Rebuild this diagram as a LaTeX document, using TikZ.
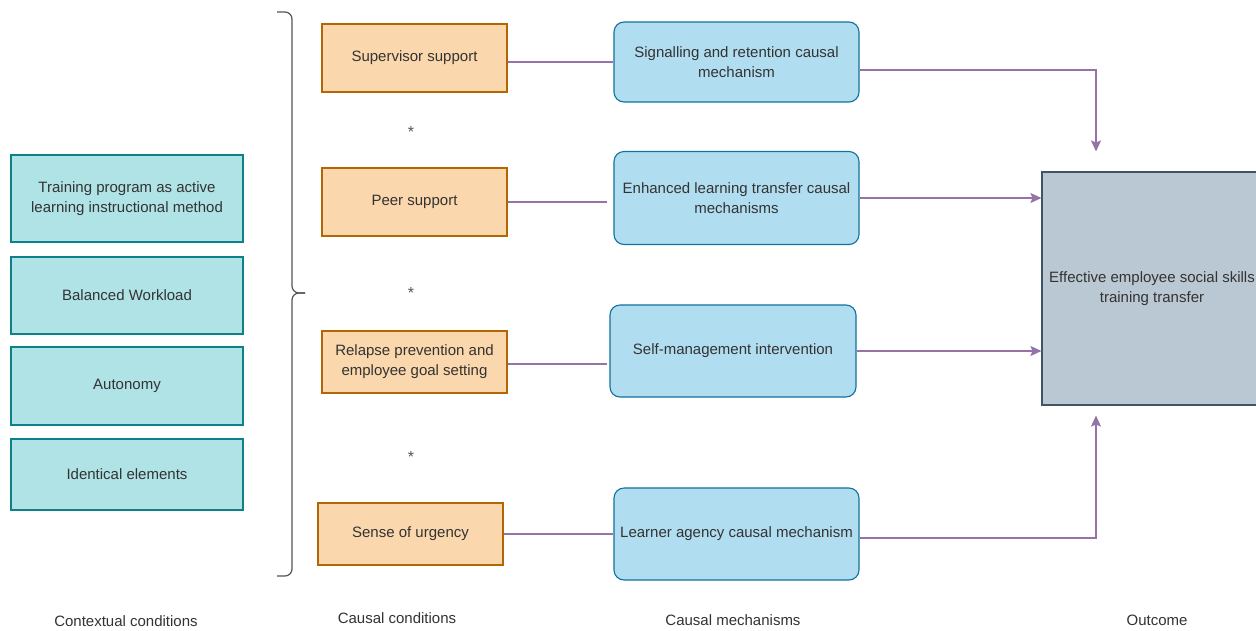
\documentclass[tikz,border=0pt]{standalone}
\usepackage{fontspec}
\setmainfont{Liberation Sans}
\usetikzlibrary{arrows.meta}

\definecolor{tealfill}{HTML}{B0E3E6}
\definecolor{tealline}{HTML}{0E8088}
\definecolor{orangefill}{HTML}{FAD7AC}
\definecolor{orangeline}{HTML}{B46504}
\definecolor{bluefill}{HTML}{B1DDF0}
\definecolor{blueline}{HTML}{10739E}
\definecolor{slatefill}{HTML}{BAC8D3}
\definecolor{slateline}{HTML}{3F5566}
\definecolor{linkc}{HTML}{9673A6}
\definecolor{ink}{HTML}{333333}
\definecolor{bracec}{HTML}{555555}

\tikzset{
  box/.style={draw, line width=1.1pt, inner sep=2pt, align=center},
  ctx/.style={box, fill=tealfill, draw=tealline},
  cond/.style={box, fill=orangefill, draw=orangeline},
  mech/.style={box, fill=bluefill, draw=blueline, rounded corners=10pt},
  outc/.style={box, fill=slatefill, draw=slateline},
  link/.style={draw=linkc, line width=1.3pt},
  arr/.style={link, -{Stealth[length=11pt,width=10pt,inset=2pt]}},
  starmark/.style={text=bracec, font=\fontsize{16}{18}\selectfont, inner sep=0pt},
  caption/.style={inner sep=0pt}
}

\begin{document}
\begin{tikzpicture}[x=1pt, y=-1pt, font=\fontsize{15}{20}\selectfont, text=ink]
\useasboundingbox[fill=white] (0,0) rectangle (1256,630);

% contextual conditions
\node[ctx, minimum width=232pt, minimum height=87pt] (c1) at (127,198.5) {Training program as active\\learning instructional method};
\node[ctx, minimum width=232pt, minimum height=77pt] (c2) at (127,295.5) {Balanced Workload};
\node[ctx, minimum width=232pt, minimum height=78pt] (c3) at (127,386) {Autonomy};
\node[ctx, minimum width=232pt, minimum height=71pt] (c4) at (127,474.5) {Identical elements};

% brace grouping the causal conditions
\draw[bracec, line width=1.2pt, rounded corners=7pt] (277,12) -- (292,12) -- (292,293) -- (305,293);
\draw[bracec, line width=1.2pt, rounded corners=7pt] (277,576) -- (292,576) -- (292,293) -- (305,293);

% causal conditions
\node[cond, minimum width=185pt, minimum height=68pt] (sup) at (414.5,58) {Supervisor support};
\node[cond, minimum width=185pt, minimum height=68pt] (peer) at (414.5,202) {Peer support};
\node[cond, minimum width=185pt, minimum height=62pt] (rel) at (414.5,362) {Relapse prevention and\\employee goal setting};
\node[cond, minimum width=185pt, minimum height=62pt] (urg) at (410.5,534) {Sense of urgency};

\node[starmark] (s1) at (411,132) {*};
\node[starmark] (s2) at (411,293) {*};
\node[starmark] (s3) at (411,457) {*};

% causal mechanisms
\node[mech, minimum width=245pt, minimum height=80pt] (sig) at (736.5,62) {Signalling and retention causal\\mechanism};
\node[mech, minimum width=245pt, minimum height=93pt] (enh) at (736.5,198) {Enhanced learning transfer causal\\mechanisms};
\node[mech, minimum width=246pt, minimum height=92pt] (self) at (733,351) {Self-management intervention};
\node[mech, minimum width=245pt, minimum height=92pt, inner sep=0pt] (lrn) at (736.5,534) {Learner agency causal mechanism};

% outcome
\node[outc, minimum width=220pt, minimum height=233pt] (out) at (1152,288.5) {Effective employee social skills\\training transfer};

% condition to mechanism links
\draw[link] (sup.east |- sig.west) -- (sig.west);
\draw[link, shorten >=6pt] (peer.east) -- (peer.east -| enh.west);
\draw[link, shorten >=2pt] ([yshift=-2pt]rel.east) -- ([yshift=-2pt]rel.east -| self.west);
\draw[link] (urg.east) -- (urg.east -| lrn.west);

% mechanism to outcome arrows
\draw[arr, shorten >=20pt] ([yshift=-8pt]sig.east) -| ([xshift=-56pt]out.north);
\draw[arr] (enh.east) -- (enh.east -| out.west);
\draw[arr] (self.east) -- (self.east -| out.west);
\draw[arr, shorten >=10pt] ([yshift=-4pt]lrn.east) -| ([xshift=-56pt]out.south);

% column captions
\node[caption] (k1) at (126,621) {Contextual conditions};
\node[caption] (k2) at (397,618) {Causal conditions};
\node[caption] (k3) at (733,620) {Causal mechanisms};
\node[caption] (k4) at (1157,620) {Outcome};
\end{tikzpicture}
\end{document}
